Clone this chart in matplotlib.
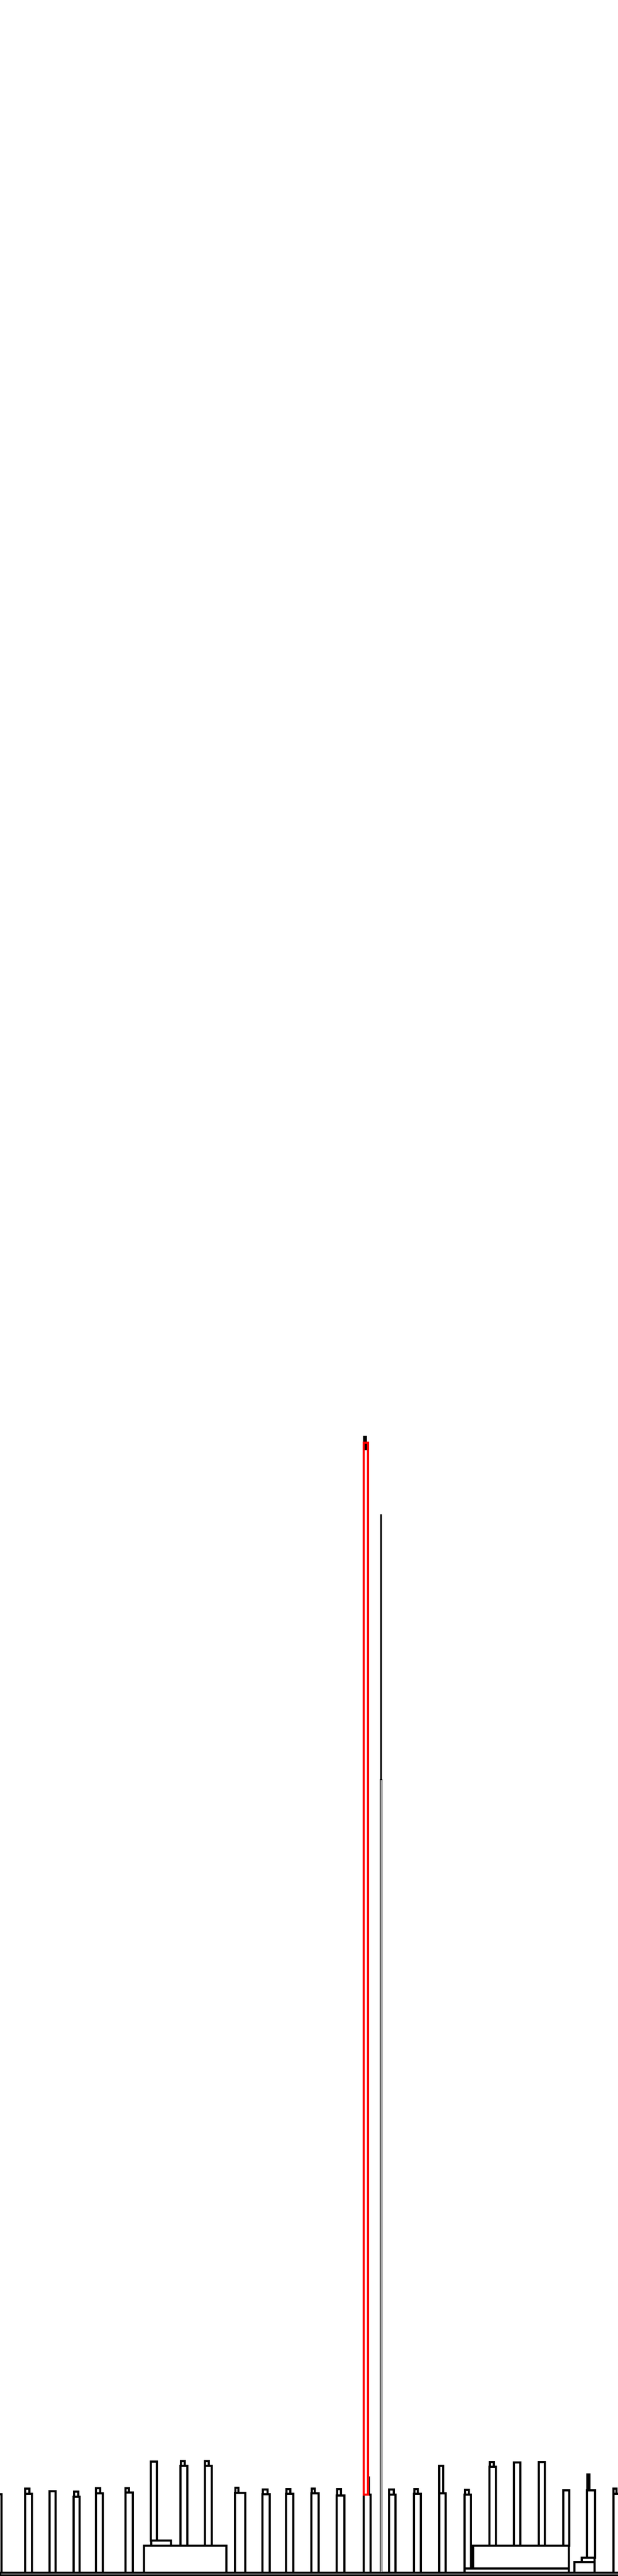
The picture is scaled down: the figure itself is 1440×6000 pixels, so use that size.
import matplotlib
matplotlib.use("Agg")
import matplotlib.pyplot as plt

# Rectangles of the chart: left edge, right edge, bottom value, top value, colour
rect_left   = [0,    -12, 58, 58, 115, 171, 172, 223, 223, 292, 292,
               335, 352, 351, 420, 421, 477, 477,
               547, 548, 611, 612, 666, 667, 725, 726, 784, 785,
               847, 857, 848, 847,
               886, 887,
               906, 906, 964, 965, 1023, 1023, 1082, 1083,
               1082, 1102, 1140, 1141, 1197, 1255, 1312,
               1338, 1355, 1367, 1368,
               1429, 1429]
rect_right  = [1445, 3,   74, 68, 129, 185, 182, 239, 233, 309, 300,
               527, 398, 365, 436, 430, 493, 486,
               571, 555, 628, 623, 683, 676, 742, 733, 802, 794,
               863, 859, 852, 857,
               890, 889,
               921, 917, 980, 973, 1038, 1032, 1097, 1092,
               1325, 1325, 1155, 1150, 1212, 1269, 1326,
               1385, 1385, 1386, 1373,
               1445, 1436]
rect_bottom = [-5.5, 0,   0, 184, 0, 0, 177, 0, 185, 0, 187,
               0, 63, 75, 63, 249, 63, 249,
               0, 186, 0, 183, 0, 184, 0, 185, 0, 180,
               0, 182, 2617, 182,
               0, 1847,
               0, 182, 0, 184, 0, 185, 0, 182,
               0, 10, 63, 247, 63, 63, 63,
               0, 25, 35, 192,
               0, 184]
rect_top    = [0,    183, 184, 196, 190, 177, 189, 185, 197, 187, 197,
               63, 75, 259, 249, 260, 249, 260,
               186, 198, 183, 194, 184, 195, 185, 196, 180, 195,
               182, 222, 2646, 2632,
               1847, 2464,
               182, 194, 184, 195, 185, 249, 182, 193,
               10, 63, 247, 258, 257, 258, 192,
               25, 35, 192, 229,
               184, 196]
rect_color  = (["black"] * 31) + ["red"] + (["black"] * 25)
rect_lw     = ([2.3] * 32) + [1.2, 1.2] + ([2.3] * 23)

fig = plt.figure(figsize=(14.4, 60), dpi=100)
ax = fig.add_axes([0, 0, 1, 1])
ax.set_xlim(0, 1440)
ax.set_ylim(-8, 5992)
ax.axis("off")

for l, r, b, t, c, lw in zip(rect_left, rect_right, rect_bottom, rect_top,
                             rect_color, rect_lw):
    ax.bar(l, t - b, width=r - l, bottom=b, align="edge",
           facecolor="white" if c == "black" else "none",
           edgecolor=c, linewidth=lw, antialiased=False)

fig.savefig("out.png", dpi=100, facecolor="white")
